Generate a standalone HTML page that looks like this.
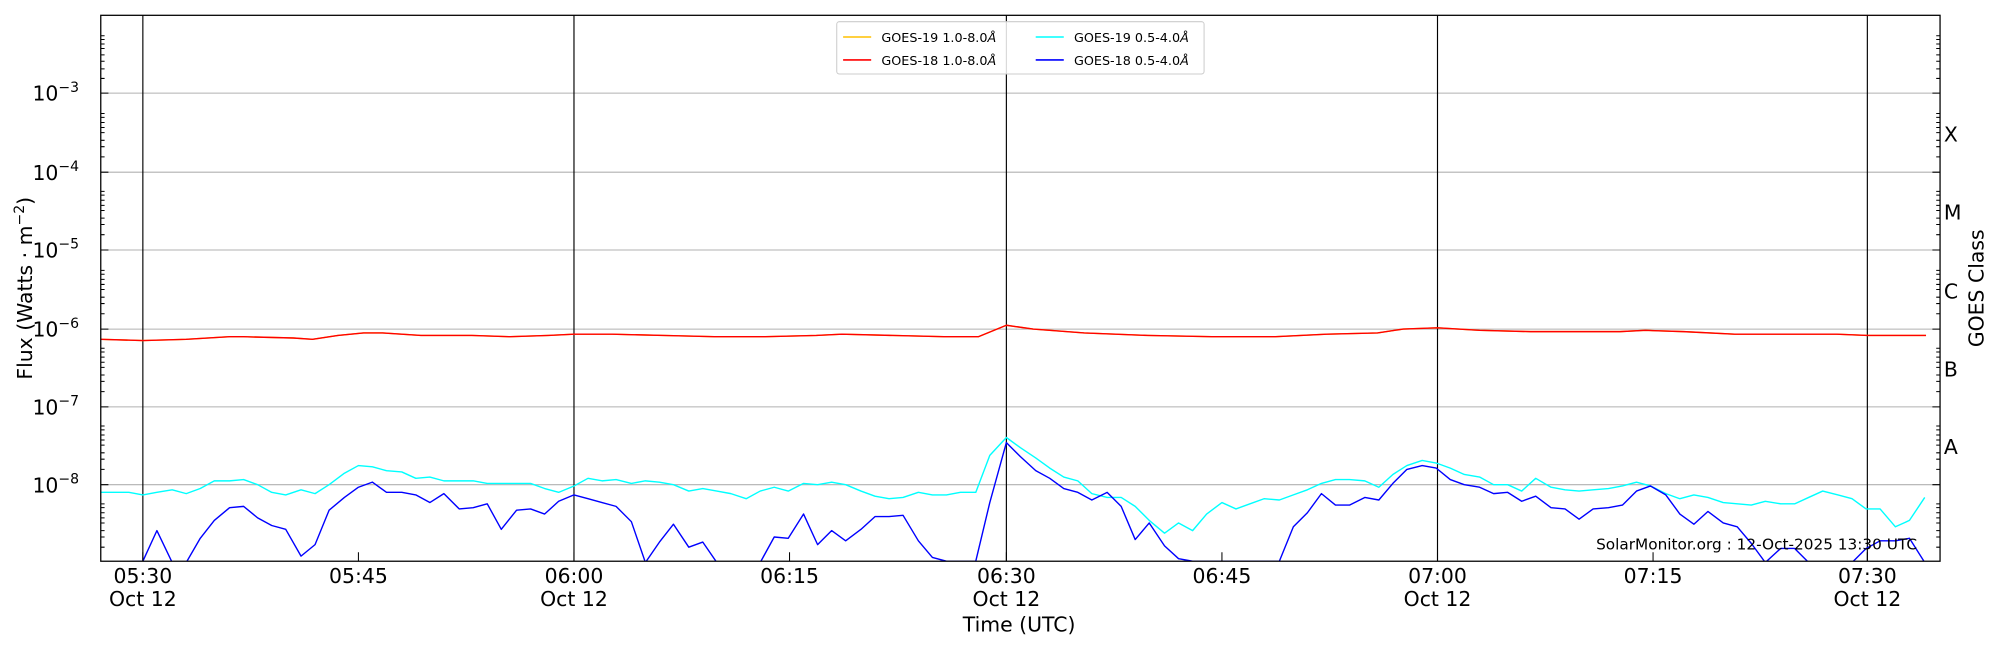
<!DOCTYPE html>
<html><head><meta charset="utf-8"><style>html,body{margin:0;padding:0;background:#fff;width:2000px;height:650px;overflow:hidden}svg{display:block}text{font-family:"DejaVu Sans","Liberation Sans",sans-serif;fill:#000}</style></head><body>
<svg width="2000" height="650" viewBox="0 0 1568 509.6" preserveAspectRatio="none" xmlns="http://www.w3.org/2000/svg">
<defs><clipPath id="c"><rect x="79" y="12" width="1442" height="428"/></clipPath></defs>
<rect width="1568" height="510" fill="#fff"/>
<g stroke="#b0b0b0" stroke-width="0.8">
<line x1="79" x2="1521" y1="73" y2="73"/><line x1="79" x2="1521" y1="135" y2="135"/><line x1="79" x2="1521" y1="196" y2="196"/><line x1="79" x2="1521" y1="258" y2="258"/><line x1="79" x2="1521" y1="319" y2="319"/><line x1="79" x2="1521" y1="380" y2="380"/>
</g>
<g stroke="#000" stroke-width="0.9">
<line x1="112" x2="112" y1="12" y2="440"/><line x1="450" x2="450" y1="12" y2="440"/><line x1="789" x2="789" y1="12" y2="440"/><line x1="1127" x2="1127" y1="12" y2="440"/><line x1="1464" x2="1464" y1="12" y2="440"/>
</g>
<g clip-path="url(#c)" fill="none" stroke-width="1.1" stroke-linejoin="round">
<polyline stroke="#ffc000" points="79,266 112,267 146,266 180,264 191,264 230,265 245,266 265,263 285,261 300,261 330,263 370,263 400,264 430,263 450,262 480,262 520,263 560,264 600,264 640,263 660,262 700,263 740,264 767,264 789,255 810,258 850,261 900,263 950,264 1000,264 1040,262 1080,261 1100,258 1127,257 1160,259 1200,260 1270,260 1290,259 1320,260 1360,262 1410,262 1440,262 1464,263 1480,263 1510,263"/>
<polyline stroke="#ff0000" points="79,266 112,267 146,266 180,264 191,264 230,265 245,266 265,263 285,261 300,261 330,263 370,263 400,264 430,263 450,262 480,262 520,263 560,264 600,264 640,263 660,262 700,263 740,264 767,264 789,255 810,258 850,261 900,263 950,264 1000,264 1040,262 1080,261 1100,258 1127,257 1160,259 1200,260 1270,260 1290,259 1320,260 1360,262 1410,262 1440,262 1464,263 1480,263 1510,263"/>
<polyline stroke="#00ffff" points="79,386 90,386 101,386 112,388 123,386 135,384 146,387 157,383 168,377 180,377 191,376 202,380 213,386 224,388 236,384 247,387 258,380 270,371 281,365 292,366 303,369 315,370 326,375 337,374 348,377 360,377 371,377 382,379 393,379 405,379 416,379 427,383 438,386 450,381 461,375 472,377 483,376 495,379 506,377 517,378 528,380 540,385 551,383 562,385 573,387 585,391 596,385 607,382 618,385 630,379 641,380 652,378 663,380 675,385 686,389 697,391 708,390 720,386 731,388 742,388 753,386 765,386 776,357 789,343 800,351 812,359 823,367 834,374 845,377 856,387 868,390 879,390 890,397 901,408 913,418 924,410 935,416 946,403 958,394 969,399 980,395 991,391 1003,392 1014,388 1025,384 1036,379 1047,376 1058,376 1070,377 1081,382 1092,372 1103,365 1115,361 1126,363 1137,367 1148,372 1160,374 1171,380 1182,380 1193,385 1204,375 1216,382 1227,384 1238,385 1249,384 1261,383 1272,381 1283,378 1294,381 1306,387 1317,391 1328,388 1339,390 1351,394 1362,395 1373,396 1384,393 1396,395 1407,395 1418,390 1429,385 1441,388 1452,391 1463,399 1474,399 1486,413 1497,408 1509,390"/>
<polyline stroke="#0000ff" points="79,441 112,440 123,416 135,441 146,441 157,422 168,408 180,398 191,397 202,406 213,412 224,415 236,436 247,427 258,400 270,390 281,382 292,378 303,386 315,386 326,388 337,394 348,387 360,399 371,398 382,395 393,415 405,400 416,399 427,403 438,393 450,388 461,391 472,394 483,397 495,409 506,441 517,425 528,411 540,429 551,425 562,441 573,441 585,441 596,441 607,421 618,422 630,403 641,427 652,416 663,424 675,415 686,405 697,405 708,404 720,424 731,437 742,440 765,440 776,394 789,347 800,358 812,369 823,375 834,383 845,386 856,392 868,386 879,397 890,423 901,410 913,428 924,438 935,440 1003,440 1014,413 1025,402 1036,387 1047,396 1058,396 1070,390 1081,392 1092,379 1103,368 1115,365 1126,367 1137,376 1148,380 1160,382 1171,387 1182,386 1193,393 1204,389 1216,398 1227,399 1238,407 1249,399 1261,398 1272,396 1283,385 1294,381 1306,388 1317,403 1328,411 1339,401 1351,410 1362,413 1373,426 1384,441 1396,430 1407,430 1418,441 1452,441 1463,430 1474,424 1486,424 1497,422 1509,441"/>
</g>
<rect x="79" y="12" width="1442" height="428" fill="none" stroke="#000" stroke-width="1"/>
<g stroke="#000" stroke-width="0.8">
<path d="M79,73h6M79,135h6M79,196h6M79,258h6M79,319h6M79,380h6M1521,73h-6M1521,135h-6M1521,196h-6M1521,258h-6M1521,319h-6M1521,380h-6"/>
<path d="M112,440v-7M281,440v-7M450,440v-7M619,440v-7M789,440v-7M958,440v-7M1127,440v-7M1296,440v-7M1464,440v-7"/>
<path d="M79,61.5h3M79,54h3M79,48h3M79,43h3M79,38h3M79,34.5h3M79,31h3M79,28h3M79,123h3M79,115h3M79,110h3M79,104h3M79,100h3M79,96h3M79,92h3M79,89h3M79,184h3M79,176h3M79,171h3M79,165h3M79,161h3M79,157h3M79,153h3M79,150h3M79,246h3M79,238h3M79,233h3M79,227h3M79,223h3M79,219h3M79,215h3M79,212h3M79,307h3M79,299h3M79,294h3M79,288h3M79,284h3M79,280h3M79,276h3M79,273h3M79,368h3M79,360h3M79,355h3M79,349h3M79,345h3M79,341h3M79,337h3M79,334h3M79,429h3M79,421h3M79,416h3M79,410h3M79,406h3M79,402h3M79,398h3M79,395h3"/>
<path d="M1521,61.5h-3M1521,54h-3M1521,48h-3M1521,43h-3M1521,38h-3M1521,34.5h-3M1521,31h-3M1521,28h-3M1521,123h-3M1521,115h-3M1521,110h-3M1521,104h-3M1521,100h-3M1521,96h-3M1521,92h-3M1521,89h-3M1521,184h-3M1521,176h-3M1521,171h-3M1521,165h-3M1521,161h-3M1521,157h-3M1521,153h-3M1521,150h-3M1521,246h-3M1521,238h-3M1521,233h-3M1521,227h-3M1521,223h-3M1521,219h-3M1521,215h-3M1521,212h-3M1521,307h-3M1521,299h-3M1521,294h-3M1521,288h-3M1521,284h-3M1521,280h-3M1521,276h-3M1521,273h-3M1521,368h-3M1521,360h-3M1521,355h-3M1521,349h-3M1521,345h-3M1521,341h-3M1521,337h-3M1521,334h-3M1521,429h-3M1521,421h-3M1521,416h-3M1521,410h-3M1521,406h-3M1521,402h-3M1521,398h-3M1521,395h-3"/>
</g>
<g font-size="16" text-anchor="end">
<text x="62" y="79">10<tspan font-size="11" dy="-7">−3</tspan></text>
<text x="62" y="141">10<tspan font-size="11" dy="-7">−4</tspan></text>
<text x="62" y="202">10<tspan font-size="11" dy="-7">−5</tspan></text>
<text x="62" y="264">10<tspan font-size="11" dy="-7">−6</tspan></text>
<text x="62" y="325">10<tspan font-size="11" dy="-7">−7</tspan></text>
<text x="62" y="386">10<tspan font-size="11" dy="-7">−8</tspan></text>
</g>
<g font-size="16" text-anchor="middle">
<text x="112" y="457">05:30</text><text x="112" y="475">Oct 12</text>
<text x="281" y="457">05:45</text>
<text x="450" y="457">06:00</text><text x="450" y="475">Oct 12</text>
<text x="619" y="457">06:15</text>
<text x="789" y="457">06:30</text><text x="789" y="475">Oct 12</text>
<text x="958" y="457">06:45</text>
<text x="1127" y="457">07:00</text><text x="1127" y="475">Oct 12</text>
<text x="1296" y="457">07:15</text>
<text x="1464" y="457">07:30</text><text x="1464" y="475">Oct 12</text>
<text x="799" y="495">Time (UTC)</text>
<text transform="translate(25,226) rotate(-90)">Flux (Watts · m<tspan font-size="11" dy="-6">−2</tspan><tspan dy="6">)</tspan></text>
<text transform="translate(1555,226) rotate(-90)">GOES Class</text>
</g>
<g font-size="16">
<text x="1524" y="111">X</text><text x="1524" y="172">M</text><text x="1524" y="234">C</text><text x="1524" y="295">B</text><text x="1524" y="356">A</text>
</g>
<text x="1503" y="431" font-size="12" text-anchor="end">SolarMonitor.org : 12-Oct-2025 13:30 UTC</text>
<rect x="656" y="17" width="288" height="41" rx="2" fill="#fff" fill-opacity="0.85" stroke="#ccc" stroke-width="0.8"/>
<g stroke-width="1.2">
<line x1="661" x2="683" y1="29" y2="29" stroke="#ffc000"/>
<line x1="661" x2="683" y1="47" y2="47" stroke="#ff0000"/>
<line x1="812" x2="834" y1="29" y2="29" stroke="#00ffff"/>
<line x1="812" x2="834" y1="47" y2="47" stroke="#0000ff"/>
</g>
<g font-size="10">
<text x="691" y="33">GOES-19 1.0-8.0<tspan font-style="italic">Å</tspan></text>
<text x="691" y="51">GOES-18 1.0-8.0<tspan font-style="italic">Å</tspan></text>
<text x="842" y="33">GOES-19 0.5-4.0<tspan font-style="italic">Å</tspan></text>
<text x="842" y="51">GOES-18 0.5-4.0<tspan font-style="italic">Å</tspan></text>
</g>
</svg>
</body></html>
